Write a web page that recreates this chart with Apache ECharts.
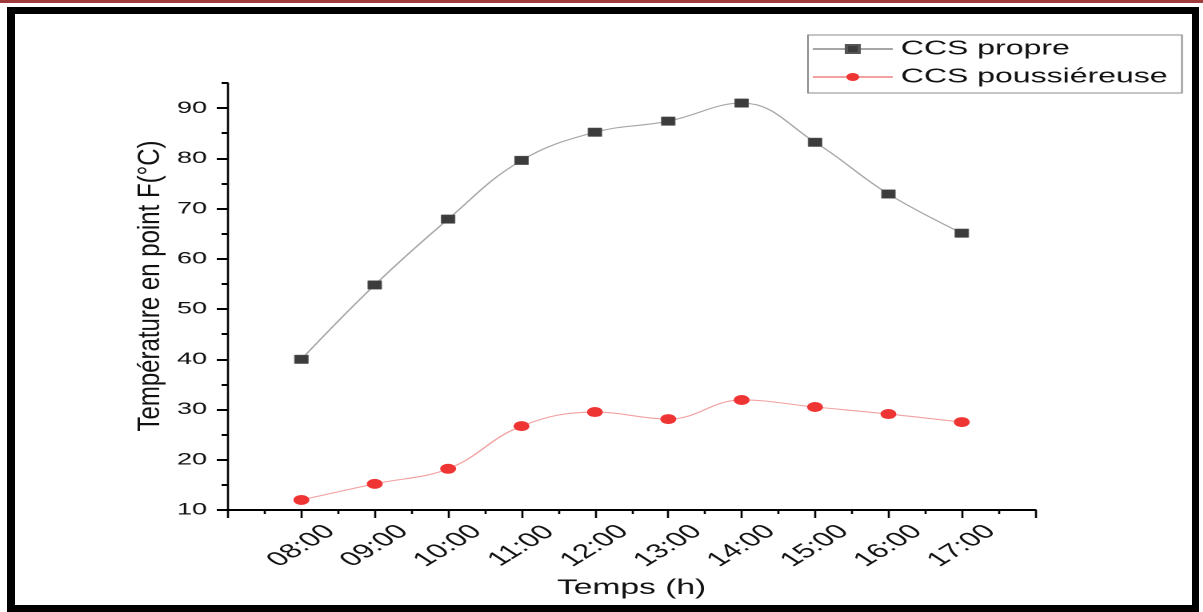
<!DOCTYPE html>
<html>
<head>
<meta charset="utf-8">
<script src="https://cdn.jsdelivr.net/npm/echarts@6/dist/echarts.min.js"></script>
<style>
  html, body { margin: 0; padding: 0; background: #fff; }
  body { width: 1203px; height: 612px; overflow: hidden; position: relative; }
  #band { position: absolute; left: 0; top: 0; width: 1203px; height: 3px; background: #9e3a3a; }
  #frame {
    position: absolute; left: 7px; top: 7px; width: 1192px; height: 605px;
    box-sizing: border-box; border-style: solid; border-color: #000;
    border-width: 7px 7px 7px 8px;
  }
  /* the figure is laid out narrow and widened horizontally */
  #chart {
    position: absolute; left: 0; top: 0; width: 752px; height: 612px;
    transform: scaleX(1.6); transform-origin: 0 0;
  }
</style>
</head>
<body>
<div id="band"></div>
<div id="frame"></div>
<div id="chart"></div>
<script>
// Hourly readings
const hours = ['08:00', '09:00', '10:00', '11:00', '12:00', '13:00', '14:00', '15:00', '16:00', '17:00'];
const ccsPropre = [40.0, 54.8, 67.9, 79.6, 85.2, 87.4, 91.0, 83.2, 72.9, 65.1];
const ccsPoussiereuse = [12.0, 15.2, 18.2, 26.7, 29.5, 28.1, 31.9, 30.5, 29.1, 27.5];
const seriesNames = ['CCS propre', 'CCS poussiéreuse'];
const yTicks = [10, 20, 30, 40, 50, 60, 70, 80, 90];
const yMinorTicks = [15, 25, 35, 45, 55, 65, 75, 85, 95];
const xTitle = 'Temps (h)';
const yTitle = 'Température en point F(°C)';

const FONT = 'Liberation Sans, Arial, sans-serif';
const hourValue = h => parseInt(h, 10);
const toPoints = vals => hours.map((h, i) => [hourValue(h), vals[i]]);

const chart = echarts.init(document.getElementById('chart'), null, { renderer: 'canvas', devicePixelRatio: 2 });

chart.setOption({
  animation: false,
  backgroundColor: 'transparent',
  grid: { left: 142.5, right: 105, top: 83, bottom: 102, containLabel: false },
  legend: {
    orient: 'vertical',
    left: 505, top: 35,
    itemWidth: 50, itemHeight: 10, itemGap: 8,
    padding: [4, 9, 6, 2],
    borderColor: '#8a8a8a', borderWidth: 1,
    textStyle: { fontFamily: FONT, fontSize: 20, color: '#111' },
    data: seriesNames,
    selectedMode: false
  },
  xAxis: {
    type: 'value',
    min: hourValue(hours[0]) - 1,
    max: hourValue(hours[hours.length - 1]) + 1,
    interval: 1,
    name: xTitle,
    nameLocation: 'middle',
    nameGap: 57,
    nameTextStyle: { fontFamily: FONT, fontSize: 21, color: '#111' },
    axisLine: { onZero: false, lineStyle: { color: '#000', width: 2 } },
    axisTick: { length: 8, lineStyle: { color: '#000', width: 1.3 } },
    minorTick: { show: true, splitNumber: 2, length: 4, lineStyle: { color: '#000', width: 1.3 } },
    splitLine: { show: false },
    axisLabel: {
      rotate: 44,
      align: 'center',
      verticalAlign: 'middle',
      margin: 36,
      fontFamily: FONT, fontSize: 20, color: '#111',
      formatter: v => hours.find(h => hourValue(h) === v) || ''
    }
  },
  yAxis: [
    {
      type: 'value', min: 10, max: 95, interval: 10,
      axisLine: { show: true, lineStyle: { color: '#000', width: 1.3 } },
      axisTick: { show: true, length: 7, customValues: yTicks, lineStyle: { color: '#000', width: 2 } },
      splitLine: { show: false },
      axisLabel: {
        customValues: yTicks, margin: 13,
        fontFamily: FONT, fontSize: 17, color: '#111'
      }
    },
    {
      type: 'value', min: 10, max: 95, position: 'left',
      axisLine: { show: false },
      axisTick: { show: true, length: 4, customValues: yMinorTicks, lineStyle: { color: '#000', width: 2 } },
      splitLine: { show: false },
      axisLabel: { show: false }
    }
  ],
  graphic: [{
    type: 'text',
    x: 94, y: 286,
    rotation: Math.PI / 2,
    scaleY: 0.8,
    style: {
      text: yTitle, fontFamily: FONT, fontSize: 24, fill: '#111',
      align: 'center', verticalAlign: 'middle'
    }
  }],
  series: [
    {
      name: seriesNames[0],
      type: 'line',
      smooth: 0.4,
      data: toPoints(ccsPropre),
      symbol: 'rect',
      symbolSize: 8.5,
      itemStyle: { color: '#3c3c3c', borderColor: '#555', borderWidth: 0.5 },
      lineStyle: { color: '#a6a6a6', width: 1.1 },
      emphasis: { disabled: true },
      z: 3
    },
    {
      name: seriesNames[1],
      type: 'line',
      smooth: 0.4,
      data: toPoints(ccsPoussiereuse),
      symbol: 'circle',
      symbolSize: 10,
      itemStyle: { color: '#ef3434' },
      lineStyle: { color: '#f2a0a0', width: 1.1 },
      emphasis: { disabled: true },
      z: 3
    }
  ]
});
</script>
</body>
</html>
